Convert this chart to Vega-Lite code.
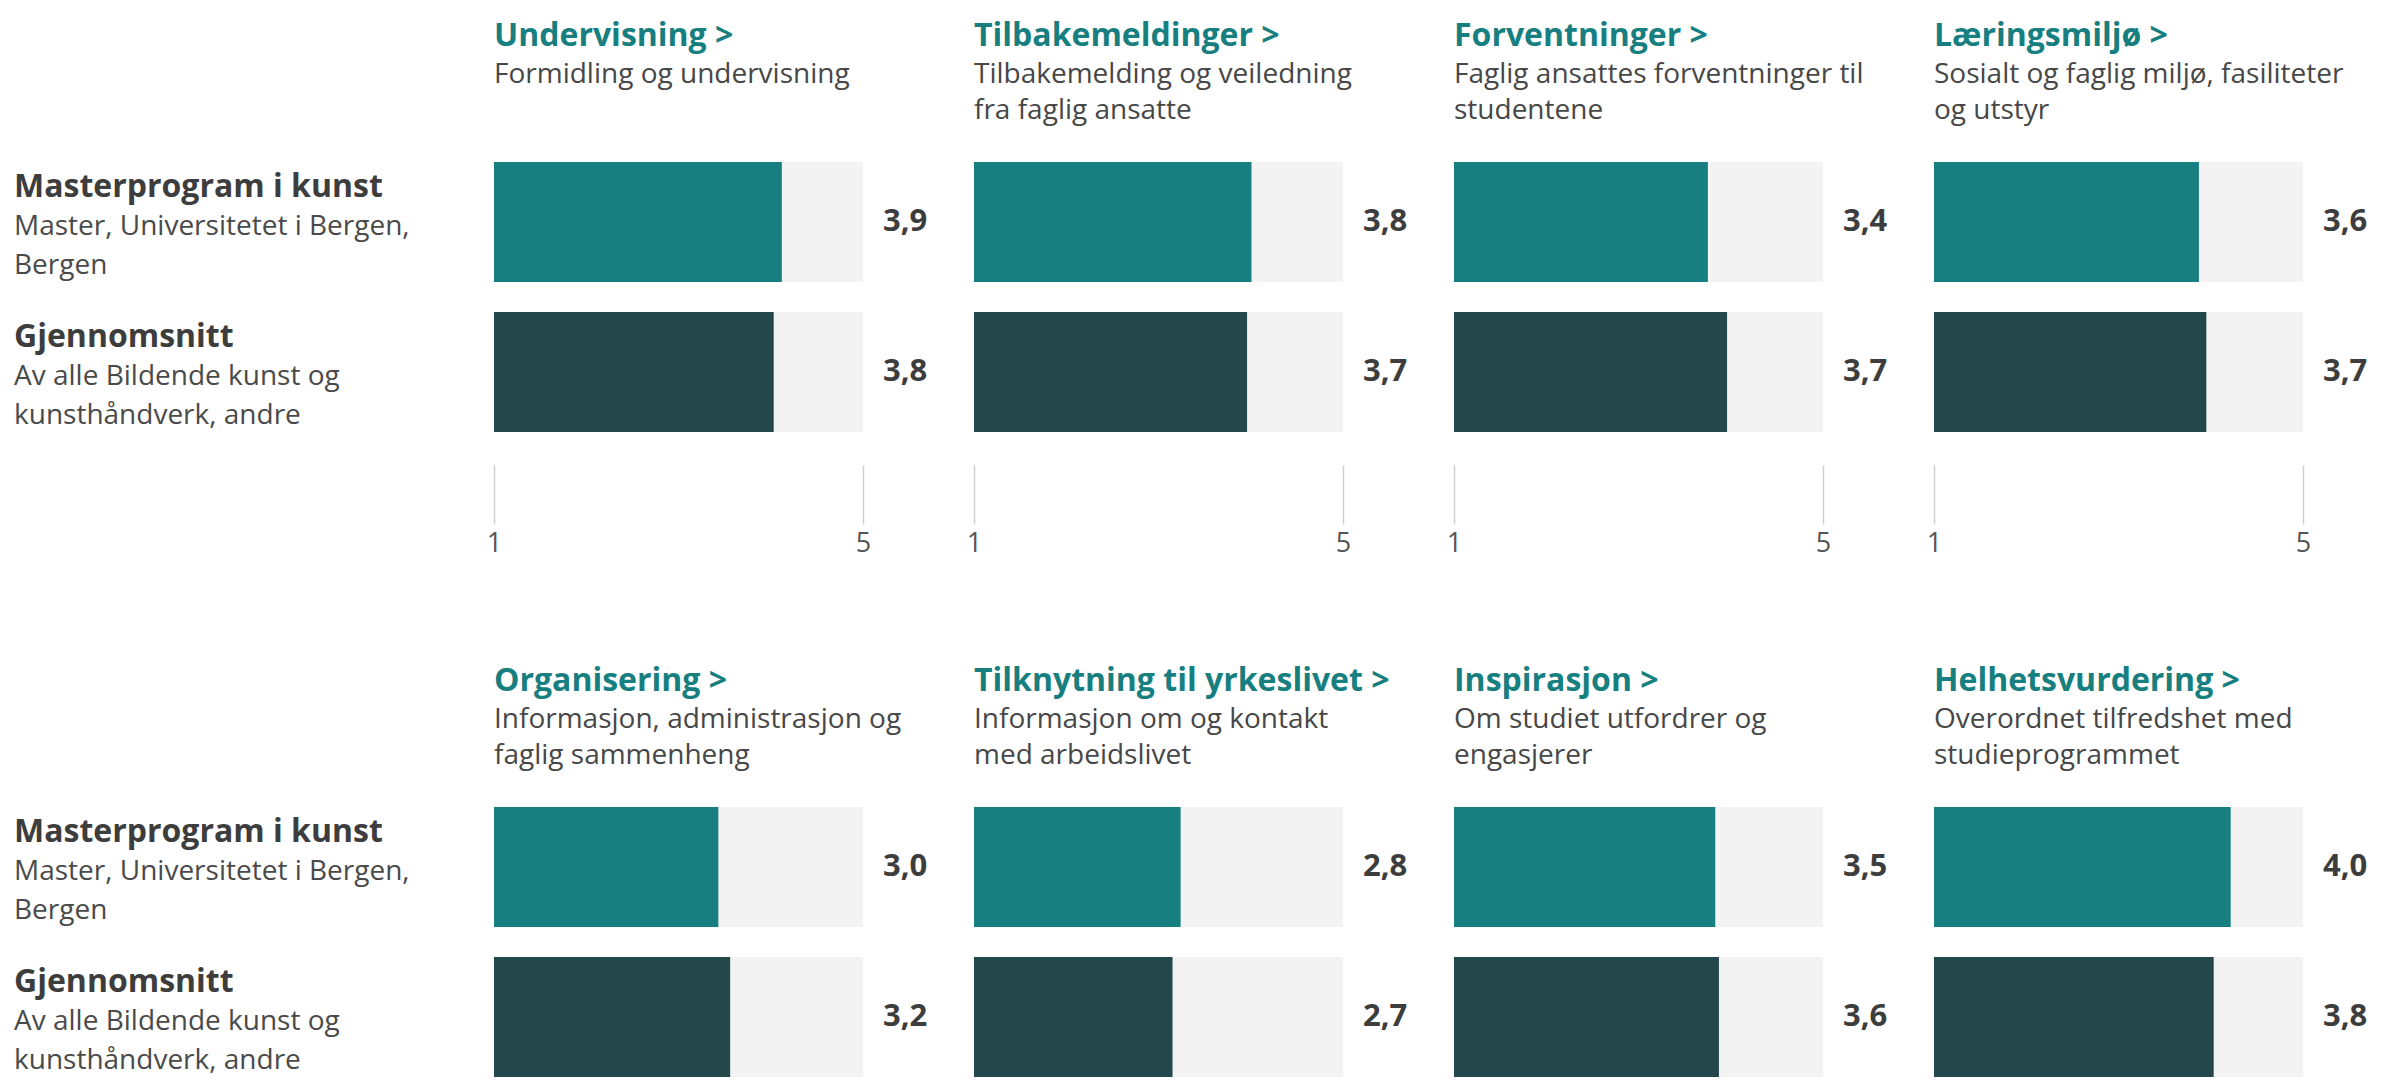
{
  "$schema": "https://vega.github.io/schema/vega-lite/v6.json",
  "padding": {"left": 14, "top": 20, "right": 5, "bottom": 5},
  "background": "white",
  "datasets": {
    "scores": [
      {"tema": "Undervisning", "gruppe": "Masterprogram i kunst", "verdi": 3.9},
      {"tema": "Undervisning", "gruppe": "Gjennomsnitt", "verdi": 3.79},
      {"tema": "Tilbakemeldinger", "gruppe": "Masterprogram i kunst", "verdi": 3.76},
      {"tema": "Tilbakemeldinger", "gruppe": "Gjennomsnitt", "verdi": 3.7},
      {"tema": "Forventninger", "gruppe": "Masterprogram i kunst", "verdi": 3.44},
      {"tema": "Forventninger", "gruppe": "Gjennomsnitt", "verdi": 3.7},
      {"tema": "Læringsmiljø", "gruppe": "Masterprogram i kunst", "verdi": 3.59},
      {"tema": "Læringsmiljø", "gruppe": "Gjennomsnitt", "verdi": 3.69},
      {"tema": "Organisering", "gruppe": "Masterprogram i kunst", "verdi": 3.04},
      {"tema": "Organisering", "gruppe": "Gjennomsnitt", "verdi": 3.2},
      {"tema": "Tilknytning til yrkeslivet", "gruppe": "Masterprogram i kunst", "verdi": 2.8},
      {"tema": "Tilknytning til yrkeslivet", "gruppe": "Gjennomsnitt", "verdi": 2.69},
      {"tema": "Inspirasjon", "gruppe": "Masterprogram i kunst", "verdi": 3.54},
      {"tema": "Inspirasjon", "gruppe": "Gjennomsnitt", "verdi": 3.59},
      {"tema": "Helhetsvurdering", "gruppe": "Masterprogram i kunst", "verdi": 4.02},
      {"tema": "Helhetsvurdering", "gruppe": "Gjennomsnitt", "verdi": 3.79}
    ],
    "grupper": [
      {"gruppe": "Masterprogram i kunst", "navn": "Masterprogram i kunst", "beskrivelse": "Master, Universitetet i Bergen,\nBergen"},
      {"gruppe": "Gjennomsnitt", "navn": "Gjennomsnitt", "beskrivelse": "Av alle Bildende kunst og\nkunsthåndverk, andre"}
    ]
  },
  "columns": 5,
  "bounds": "flush",
  "spacing": {"row": 375, "column": 111},
  "concat": [
    {
      "width": 369, "height": 270,
      "data": {"name": "grupper"},
      "encoding": {
        "x": {"datum": 0, "type": "quantitative", "scale": {"domain": [0, 1]}, "axis": null},
        "y": {"field": "gruppe", "type": "nominal", "sort": ["Masterprogram i kunst", "Gjennomsnitt"], "scale": {"type": "band", "paddingInner": 0.2, "paddingOuter": 0}, "axis": null}
      },
      "layer": [
        {"mark": {"type": "text", "align": "left", "baseline": "alphabetic", "dy": -25, "fontSize": 32, "fontWeight": "bold", "color": "#3d3d3d"},
         "encoding": {"text": {"field": "navn", "type": "nominal"}}},
        {"mark": {"type": "text", "align": "left", "baseline": "alphabetic", "dy": 13, "fontSize": 28, "lineBreak": "\n", "lineHeight": 38.5, "color": "#4a4a4a"},
         "encoding": {"text": {"field": "beskrivelse", "type": "nominal"}}}
      ]
    },
    {
      "width": 369, "height": 270,
      "data": {"name": "scores"},
      "transform": [{"filter": "datum.tema == 'Undervisning'"}],
      "title": {"text": "Undervisning >", "subtitle": ["Formidling og undervisning", " "]},
      "encoding": {"y": {"field": "gruppe", "type": "nominal", "sort": ["Masterprogram i kunst", "Gjennomsnitt"], "scale": {"paddingInner": 0.2, "paddingOuter": 0}, "axis": null}},
      "layer": [
        {"mark": {"type": "bar", "color": "#f3f3f3"}, "encoding": {"x": {"datum": 5, "type": "quantitative", "scale": {"domain": [0, 5]}, "axis": {"values": [0, 5], "labelExpr": "datum.value == 0 ? '1' : '5'", "domain": false, "grid": false, "tickSize": 59, "tickColor": "#d0d0d0", "tickWidth": 1.5, "offset": 33, "labelPadding": 6, "labelFontSize": 27, "labelColor": "#555555", "labelFlush": false, "labelOverlap": false, "title": null}}}},
        {"mark": {"type": "bar"}, "encoding": {"x": {"field": "verdi", "type": "quantitative"}, "color": {"field": "gruppe", "type": "nominal", "scale": {"domain": ["Masterprogram i kunst", "Gjennomsnitt"], "range": ["#177f80", "#23474a"]}, "legend": null}}},
        {"mark": {"type": "text", "align": "left", "baseline": "middle", "dx": 20, "fontWeight": "bold", "fontSize": 31, "color": "#3d3d3d"}, "encoding": {"x": {"datum": 5, "type": "quantitative"}, "text": {"field": "verdi", "type": "quantitative", "format": ".1f"}}}
      ]
    },
    {
      "width": 369, "height": 270,
      "data": {"name": "scores"},
      "transform": [{"filter": "datum.tema == 'Tilbakemeldinger'"}],
      "title": {"text": "Tilbakemeldinger >", "subtitle": ["Tilbakemelding og veiledning", "fra faglig ansatte"]},
      "encoding": {"y": {"field": "gruppe", "type": "nominal", "sort": ["Masterprogram i kunst", "Gjennomsnitt"], "scale": {"paddingInner": 0.2, "paddingOuter": 0}, "axis": null}},
      "layer": [
        {"mark": {"type": "bar", "color": "#f3f3f3"}, "encoding": {"x": {"datum": 5, "type": "quantitative", "scale": {"domain": [0, 5]}, "axis": {"values": [0, 5], "labelExpr": "datum.value == 0 ? '1' : '5'", "domain": false, "grid": false, "tickSize": 59, "tickColor": "#d0d0d0", "tickWidth": 1.5, "offset": 33, "labelPadding": 6, "labelFontSize": 27, "labelColor": "#555555", "labelFlush": false, "labelOverlap": false, "title": null}}}},
        {"mark": {"type": "bar"}, "encoding": {"x": {"field": "verdi", "type": "quantitative"}, "color": {"field": "gruppe", "type": "nominal", "scale": {"domain": ["Masterprogram i kunst", "Gjennomsnitt"], "range": ["#177f80", "#23474a"]}, "legend": null}}},
        {"mark": {"type": "text", "align": "left", "baseline": "middle", "dx": 20, "fontWeight": "bold", "fontSize": 31, "color": "#3d3d3d"}, "encoding": {"x": {"datum": 5, "type": "quantitative"}, "text": {"field": "verdi", "type": "quantitative", "format": ".1f"}}}
      ]
    },
    {
      "width": 369, "height": 270,
      "data": {"name": "scores"},
      "transform": [{"filter": "datum.tema == 'Forventninger'"}],
      "title": {"text": "Forventninger >", "subtitle": ["Faglig ansattes forventninger til", "studentene"]},
      "encoding": {"y": {"field": "gruppe", "type": "nominal", "sort": ["Masterprogram i kunst", "Gjennomsnitt"], "scale": {"paddingInner": 0.2, "paddingOuter": 0}, "axis": null}},
      "layer": [
        {"mark": {"type": "bar", "color": "#f3f3f3"}, "encoding": {"x": {"datum": 5, "type": "quantitative", "scale": {"domain": [0, 5]}, "axis": {"values": [0, 5], "labelExpr": "datum.value == 0 ? '1' : '5'", "domain": false, "grid": false, "tickSize": 59, "tickColor": "#d0d0d0", "tickWidth": 1.5, "offset": 33, "labelPadding": 6, "labelFontSize": 27, "labelColor": "#555555", "labelFlush": false, "labelOverlap": false, "title": null}}}},
        {"mark": {"type": "bar"}, "encoding": {"x": {"field": "verdi", "type": "quantitative"}, "color": {"field": "gruppe", "type": "nominal", "scale": {"domain": ["Masterprogram i kunst", "Gjennomsnitt"], "range": ["#177f80", "#23474a"]}, "legend": null}}},
        {"mark": {"type": "text", "align": "left", "baseline": "middle", "dx": 20, "fontWeight": "bold", "fontSize": 31, "color": "#3d3d3d"}, "encoding": {"x": {"datum": 5, "type": "quantitative"}, "text": {"field": "verdi", "type": "quantitative", "format": ".1f"}}}
      ]
    },
    {
      "width": 369, "height": 270,
      "data": {"name": "scores"},
      "transform": [{"filter": "datum.tema == 'Læringsmiljø'"}],
      "title": {"text": "Læringsmiljø >", "subtitle": ["Sosialt og faglig miljø, fasiliteter", "og utstyr"]},
      "encoding": {"y": {"field": "gruppe", "type": "nominal", "sort": ["Masterprogram i kunst", "Gjennomsnitt"], "scale": {"paddingInner": 0.2, "paddingOuter": 0}, "axis": null}},
      "layer": [
        {"mark": {"type": "bar", "color": "#f3f3f3"}, "encoding": {"x": {"datum": 5, "type": "quantitative", "scale": {"domain": [0, 5]}, "axis": {"values": [0, 5], "labelExpr": "datum.value == 0 ? '1' : '5'", "domain": false, "grid": false, "tickSize": 59, "tickColor": "#d0d0d0", "tickWidth": 1.5, "offset": 33, "labelPadding": 6, "labelFontSize": 27, "labelColor": "#555555", "labelFlush": false, "labelOverlap": false, "title": null}}}},
        {"mark": {"type": "bar"}, "encoding": {"x": {"field": "verdi", "type": "quantitative"}, "color": {"field": "gruppe", "type": "nominal", "scale": {"domain": ["Masterprogram i kunst", "Gjennomsnitt"], "range": ["#177f80", "#23474a"]}, "legend": null}}},
        {"mark": {"type": "text", "align": "left", "baseline": "middle", "dx": 20, "fontWeight": "bold", "fontSize": 31, "color": "#3d3d3d"}, "encoding": {"x": {"datum": 5, "type": "quantitative"}, "text": {"field": "verdi", "type": "quantitative", "format": ".1f"}}}
      ]
    },
    {
      "width": 369, "height": 270,
      "data": {"name": "grupper"},
      "encoding": {
        "x": {"datum": 0, "type": "quantitative", "scale": {"domain": [0, 1]}, "axis": null},
        "y": {"field": "gruppe", "type": "nominal", "sort": ["Masterprogram i kunst", "Gjennomsnitt"], "scale": {"type": "band", "paddingInner": 0.2, "paddingOuter": 0}, "axis": null}
      },
      "layer": [
        {"mark": {"type": "text", "align": "left", "baseline": "alphabetic", "dy": -25, "fontSize": 32, "fontWeight": "bold", "color": "#3d3d3d"},
         "encoding": {"text": {"field": "navn", "type": "nominal"}}},
        {"mark": {"type": "text", "align": "left", "baseline": "alphabetic", "dy": 13, "fontSize": 28, "lineBreak": "\n", "lineHeight": 38.5, "color": "#4a4a4a"},
         "encoding": {"text": {"field": "beskrivelse", "type": "nominal"}}}
      ]
    },
    {
      "width": 369, "height": 270,
      "data": {"name": "scores"},
      "transform": [{"filter": "datum.tema == 'Organisering'"}],
      "title": {"text": "Organisering >", "subtitle": ["Informasjon, administrasjon og", "faglig sammenheng"]},
      "encoding": {"y": {"field": "gruppe", "type": "nominal", "sort": ["Masterprogram i kunst", "Gjennomsnitt"], "scale": {"paddingInner": 0.2, "paddingOuter": 0}, "axis": null}},
      "layer": [
        {"mark": {"type": "bar", "color": "#f3f3f3"}, "encoding": {"x": {"datum": 5, "type": "quantitative", "scale": {"domain": [0, 5]}, "axis": null}}},
        {"mark": {"type": "bar"}, "encoding": {"x": {"field": "verdi", "type": "quantitative"}, "color": {"field": "gruppe", "type": "nominal", "scale": {"domain": ["Masterprogram i kunst", "Gjennomsnitt"], "range": ["#177f80", "#23474a"]}, "legend": null}}},
        {"mark": {"type": "text", "align": "left", "baseline": "middle", "dx": 20, "fontWeight": "bold", "fontSize": 31, "color": "#3d3d3d"}, "encoding": {"x": {"datum": 5, "type": "quantitative"}, "text": {"field": "verdi", "type": "quantitative", "format": ".1f"}}}
      ]
    },
    {
      "width": 369, "height": 270,
      "data": {"name": "scores"},
      "transform": [{"filter": "datum.tema == 'Tilknytning til yrkeslivet'"}],
      "title": {"text": "Tilknytning til yrkeslivet >", "subtitle": ["Informasjon om og kontakt", "med arbeidslivet"]},
      "encoding": {"y": {"field": "gruppe", "type": "nominal", "sort": ["Masterprogram i kunst", "Gjennomsnitt"], "scale": {"paddingInner": 0.2, "paddingOuter": 0}, "axis": null}},
      "layer": [
        {"mark": {"type": "bar", "color": "#f3f3f3"}, "encoding": {"x": {"datum": 5, "type": "quantitative", "scale": {"domain": [0, 5]}, "axis": null}}},
        {"mark": {"type": "bar"}, "encoding": {"x": {"field": "verdi", "type": "quantitative"}, "color": {"field": "gruppe", "type": "nominal", "scale": {"domain": ["Masterprogram i kunst", "Gjennomsnitt"], "range": ["#177f80", "#23474a"]}, "legend": null}}},
        {"mark": {"type": "text", "align": "left", "baseline": "middle", "dx": 20, "fontWeight": "bold", "fontSize": 31, "color": "#3d3d3d"}, "encoding": {"x": {"datum": 5, "type": "quantitative"}, "text": {"field": "verdi", "type": "quantitative", "format": ".1f"}}}
      ]
    },
    {
      "width": 369, "height": 270,
      "data": {"name": "scores"},
      "transform": [{"filter": "datum.tema == 'Inspirasjon'"}],
      "title": {"text": "Inspirasjon >", "subtitle": ["Om studiet utfordrer og", "engasjerer"]},
      "encoding": {"y": {"field": "gruppe", "type": "nominal", "sort": ["Masterprogram i kunst", "Gjennomsnitt"], "scale": {"paddingInner": 0.2, "paddingOuter": 0}, "axis": null}},
      "layer": [
        {"mark": {"type": "bar", "color": "#f3f3f3"}, "encoding": {"x": {"datum": 5, "type": "quantitative", "scale": {"domain": [0, 5]}, "axis": null}}},
        {"mark": {"type": "bar"}, "encoding": {"x": {"field": "verdi", "type": "quantitative"}, "color": {"field": "gruppe", "type": "nominal", "scale": {"domain": ["Masterprogram i kunst", "Gjennomsnitt"], "range": ["#177f80", "#23474a"]}, "legend": null}}},
        {"mark": {"type": "text", "align": "left", "baseline": "middle", "dx": 20, "fontWeight": "bold", "fontSize": 31, "color": "#3d3d3d"}, "encoding": {"x": {"datum": 5, "type": "quantitative"}, "text": {"field": "verdi", "type": "quantitative", "format": ".1f"}}}
      ]
    },
    {
      "width": 369, "height": 270,
      "data": {"name": "scores"},
      "transform": [{"filter": "datum.tema == 'Helhetsvurdering'"}],
      "title": {"text": "Helhetsvurdering >", "subtitle": ["Overordnet tilfredshet med", "studieprogrammet"]},
      "encoding": {"y": {"field": "gruppe", "type": "nominal", "sort": ["Masterprogram i kunst", "Gjennomsnitt"], "scale": {"paddingInner": 0.2, "paddingOuter": 0}, "axis": null}},
      "layer": [
        {"mark": {"type": "bar", "color": "#f3f3f3"}, "encoding": {"x": {"datum": 5, "type": "quantitative", "scale": {"domain": [0, 5]}, "axis": null}}},
        {"mark": {"type": "bar"}, "encoding": {"x": {"field": "verdi", "type": "quantitative"}, "color": {"field": "gruppe", "type": "nominal", "scale": {"domain": ["Masterprogram i kunst", "Gjennomsnitt"], "range": ["#177f80", "#23474a"]}, "legend": null}}},
        {"mark": {"type": "text", "align": "left", "baseline": "middle", "dx": 20, "fontWeight": "bold", "fontSize": 31, "color": "#3d3d3d"}, "encoding": {"x": {"datum": 5, "type": "quantitative"}, "text": {"field": "verdi", "type": "quantitative", "format": ".1f"}}}
      ]
    }
  ],
  "config": {
    "font": "Open Sans",
    "view": {"stroke": null},
    "locale": {"number": {"decimal": ",", "thousands": " ", "grouping": [3], "currency": ["", " kr"]}},
    "axis": {"labelFont": "Open Sans"},
    "title": {"anchor": "start", "frame": "group", "fontSize": 32, "fontWeight": "bold", "color": "#177f80", "font": "Open Sans", "subtitleFont": "Open Sans", "subtitleFontSize": 28, "subtitleColor": "#474747", "subtitleLineHeight": 36, "subtitlePadding": 8, "offset": 36, "baseline": "top"}
  }
}
